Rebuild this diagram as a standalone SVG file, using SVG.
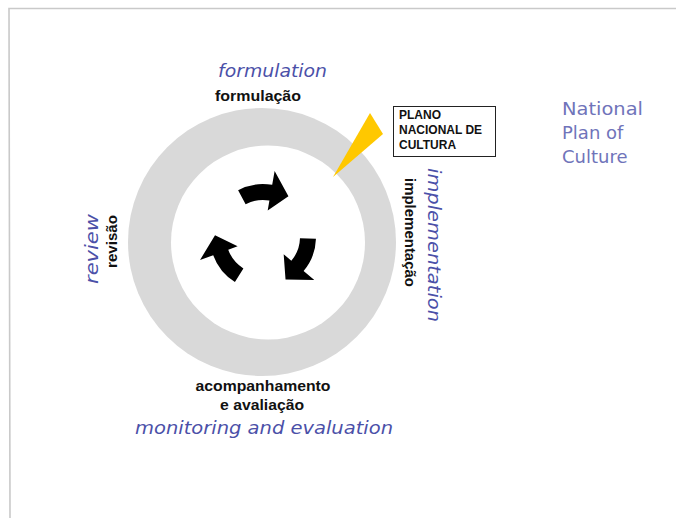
<svg xmlns="http://www.w3.org/2000/svg" xmlns:xlink="http://www.w3.org/1999/xlink" width="676" height="518" viewBox="0 0 676 518">
  <style>
    .frame { fill: none; stroke: #c9c9c9; stroke-width: 1.6; }
    .en { font-family: "DejaVu Sans", "Liberation Sans", sans-serif; font-style: italic; font-size: 18px; fill: #4b50a8; }
    .en-plain { font-family: "DejaVu Sans", "Liberation Sans", sans-serif; font-size: 18px; fill: #7074ba; }
    .pt { font-family: "Liberation Sans", Arial, sans-serif; font-weight: bold; font-size: 15px; fill: #111; }
    .box-text { font-family: "Liberation Sans", Arial, sans-serif; font-weight: bold; font-size: 12px; fill: #111; }
    .cycle-arrow { fill: #000; }
  </style>
  <defs>
    <!-- one curved arrow, drawn about the centre of the cycle -->
    <path id="arc-arrow" d="M -24.88 -46.79 A 53 53 0 0 1 9.20 -52.19 L 11.63 -65.98 L 25.44 -40.71 L 4.69 -26.59 L 6.42 -36.44 A 37 37 0 0 0 -17.37 -32.67 Z"/>
  </defs>

  <rect width="676" height="518" fill="#fff"/>
  <path class="frame" d="M 10 518 L 9 8.5 L 676 8.5"/>

  <!-- cycle ring -->
  <g id="ring">
    <circle cx="262" cy="242" r="134" fill="#d9d9d9"/>
    <circle cx="268" cy="242.5" r="97" fill="#fff"/>
  </g>

  <!-- rotating arrows in the middle of the ring -->
  <g id="connectors" class="cycle-arrow">
    <use xlink:href="#arc-arrow" transform="translate(263,237)"/>
    <use xlink:href="#arc-arrow" transform="translate(263,237) rotate(120)"/>
    <use xlink:href="#arc-arrow" transform="translate(263,237) rotate(240)"/>
  </g>

  <g id="stage-formulation">
    <text class="en" x="272.5" y="77" text-anchor="middle" textLength="109" lengthAdjust="spacingAndGlyphs">formulation</text>
    <text class="pt" x="258" y="101" text-anchor="middle" textLength="86" lengthAdjust="spacingAndGlyphs">formulação</text>
  </g>

  <g id="stage-implementation">
    <text class="en" transform="translate(428,245) rotate(90)" text-anchor="middle" textLength="154" lengthAdjust="spacingAndGlyphs">implementation</text>
    <text class="pt" transform="translate(405,232.5) rotate(90)" text-anchor="middle" textLength="109" lengthAdjust="spacingAndGlyphs">implementação</text>
  </g>

  <g id="stage-monitoring">
    <text class="pt" x="263" y="391" text-anchor="middle" textLength="135" lengthAdjust="spacingAndGlyphs">acompanhamento</text>
    <text class="pt" x="262" y="410" text-anchor="middle" textLength="84" lengthAdjust="spacingAndGlyphs">e avaliação</text>
    <text class="en" x="264" y="434" text-anchor="middle" textLength="258" lengthAdjust="spacingAndGlyphs">monitoring and evaluation</text>
  </g>

  <g id="stage-review">
    <text class="en" transform="translate(98,249) rotate(-90)" text-anchor="middle" textLength="70" lengthAdjust="spacingAndGlyphs">review</text>
    <text class="pt" transform="translate(117,241.5) rotate(-90)" text-anchor="middle" textLength="53" lengthAdjust="spacingAndGlyphs">revisão</text>
  </g>

  <!-- plan callout -->
  <g id="plan-callout">
    <polygon points="370,113 383,134 333,177" fill="#ffc800"/>
    <rect x="393.5" y="106.5" width="102" height="50" fill="#fff" stroke="#222" stroke-width="1"/>
    <text class="box-text" x="399" y="119">PLANO</text>
    <text class="box-text" x="399" y="134">NACIONAL DE</text>
    <text class="box-text" x="399" y="149">CULTURA</text>
  </g>

  <g id="plan-label">
    <text class="en-plain" x="562" y="115" textLength="81" lengthAdjust="spacingAndGlyphs">National</text>
    <text class="en-plain" x="562" y="139">Plan of</text>
    <text class="en-plain" x="562" y="163">Culture</text>
  </g>
</svg>
